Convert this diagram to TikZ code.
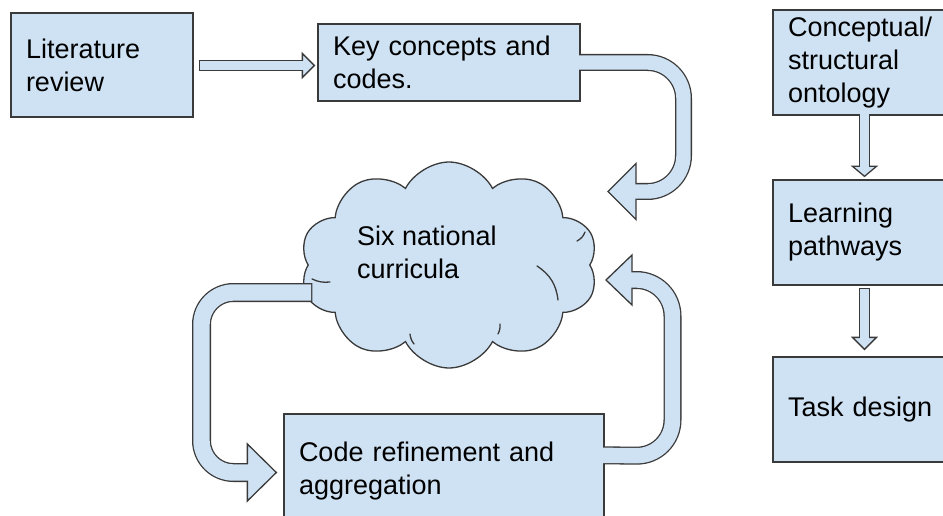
\documentclass[tikz,border=0pt]{standalone}
\usepackage{fontspec}
\setmainfont{Liberation Sans}
\usetikzlibrary{shapes.symbols,calc}
\definecolor{fc}{HTML}{CFE2F3}
\definecolor{lc}{HTML}{3A3A3A}
\newcommand\boxfont{\fontsize{27}{33}\selectfont}
\tikzset{
  box/.style={draw=lc, fill=fc, line width=1.3pt, rectangle, align=left,
    inner xsep=15pt, inner ysep=0pt, font=\boxfont},
  shaftout/.style={draw=lc, line width=#1},
  shaftin/.style={draw=fc, line width=#1-2.6pt},
  headsty/.style={draw=lc, fill=fc, line width=1.3pt, line join=miter},
  cloudsty/.style={cloud, cloud puffs=10, cloud puff arc=125, cloud ignores aspect,
    draw=lc, fill=fc, line width=1.3pt, inner sep=0pt},
  foldsty/.style={draw=lc, line width=1.3pt, line cap=round},
  plain/.style={align=left, inner sep=0pt, font=\boxfont}
}
\begin{document}
\begin{tikzpicture}[x=1pt,y=-1pt]
\useasboundingbox (0,0) rectangle (943,516);
\clip (0,0) rectangle (943,516);
% boxes
\node[box, text width=152pt, minimum height=104pt] (lit) at (102,65) {Literature\\review};
\node[box, text width=232pt, minimum height=77pt] (key) at (449,62.5) {Key concepts and\\codes.};
\node[box, text width=290pt, minimum height=114pt] (code) at (444,471) {Code refinement and\\aggregation};
\node[box, text width=153pt, minimum height=105pt] (onto) at (864.5,62.5) {Conceptual/\\structural\\ontology};
\node[box, text width=153pt, minimum height=105pt] (path) at (864.5,232.5) {Learning\\pathways};
\node[box, text width=153pt, minimum height=105pt] (task) at (864.5,409.5) {Task design};
% cloud
\node[cloudsty, minimum width=298pt, minimum height=206pt] (cloud) at (449,265) {};
\draw[foldsty] (537,266) to[bend left=25] (558,300);
\draw[foldsty] (330,282) to[bend left=15] (312,279);
\draw[foldsty] (577,241) to[bend right=20] (585,232);
\draw[foldsty] (500,324) to[bend left=15] (498,334);
\draw[foldsty] (410,334) to[bend right=15] (414,344);
\node[plain, anchor=west] (cloudtxt) at (357,252) {Six national\\curricula};

% arrow lit -> key
\coordinate (a0s) at ($(lit.east)+(5,0.5)$);
\coordinate (a0t) at ($(lit.east -| key.west)+(-3,0.5)$);
\coordinate (a0b) at ($(a0t)+(-12,0)$);
\draw[shaftout=11pt] (a0s) -- (a0b);
\draw[headsty] ($(a0b)+(0,-12)$) -- (a0t) -- ($(a0b)+(0,12)$) -- cycle;
\draw[shaftin=11pt] ($(a0s)+(1.3,0)$) -- ($(a0b)+(1.5,0)$);

% arrow key -> cloud (U-turn)
\coordinate (a1c1) at (683.5,62.5);
\coordinate (a1c2) at (683.5,191.5);
\coordinate (a1t) at (608,191.5);
\coordinate (a1b) at ($(a1t)+(28,0)$);
\draw[shaftout=17pt, rounded corners=36pt] (key.east) -- (a1c1) -- (a1c2) -- (a1b);
\draw[headsty] ($(a1b)+(0,-28)$) -- (a1t) -- ($(a1b)+(0,28)$) -- cycle;
\draw[shaftin=17pt, rounded corners=36pt] ($(key.east)+(-2,0)$) -- (a1c1) -- (a1c2) -- ($(a1b)+(-1.5,0)$);

% arrow cloud -> code (left U-turn)
\coordinate (a2s) at ($(cloud.west)+(5,27.5)$);
\coordinate (a2c1) at (201.5,292.5);
\coordinate (a2c2) at (201.5,472.5);
\coordinate (a2t) at ($(code.west |- a2c2)+(-7,0)$);
\coordinate (a2b) at ($(a2t)+(-29,0)$);
\draw[shaftout=19pt, rounded corners=32pt] (a2s) -- (a2c1) -- (a2c2) -- (a2b);
\draw[headsty] ($(a2b)+(0,-28.5)$) -- (a2t) -- ($(a2b)+(0,28.5)$) -- cycle;
\draw[shaftin=19pt, rounded corners=32pt] ($(a2s)+(-1.3,0)$) -- (a2c1) -- (a2c2) -- ($(a2b)+(1.5,0)$);

% arrow code -> cloud (right U-turn)
\coordinate (a3s) at ($(code.north east)+(0,42)$);
\coordinate (a3c1) at (672.5,456);
\coordinate (a3c2) at (672.5,280);
\coordinate (a3t) at (606,280);
\coordinate (a3b) at ($(a3t)+(26,0)$);
\draw[shaftout=18pt, rounded corners=36pt] (a3s) -- (a3c1) -- (a3c2) -- (a3b);
\draw[headsty] ($(a3b)+(0,-25)$) -- (a3t) -- ($(a3b)+(0,25)$) -- cycle;
\draw[shaftin=18pt, rounded corners=36pt] ($(a3s)+(-2,0)$) -- (a3c1) -- (a3c2) -- ($(a3b)+(-1.5,0)$);

% arrow onto -> path
\coordinate (a4t) at ($(path.north)+(0,-3)$);
\coordinate (a4b) at ($(a4t)+(0,-10)$);
\draw[shaftout=11pt] (onto.south) -- (a4b);
\draw[headsty] ($(a4b)+(-12,0)$) -- (a4t) -- ($(a4b)+(12,0)$) -- cycle;
\draw[shaftin=11pt] ($(onto.south)+(0,-2)$) -- ($(a4b)+(0,1.5)$);

% arrow path -> task
\coordinate (a5s) at ($(path.south)+(0,2)$);
\coordinate (a5t) at ($(task.north)+(0,-7)$);
\coordinate (a5b) at ($(a5t)+(0,-12)$);
\draw[shaftout=11pt] (a5s) -- (a5b);
\draw[headsty] ($(a5b)+(-12,0)$) -- (a5t) -- ($(a5b)+(12,0)$) -- cycle;
\draw[shaftin=11pt] ($(a5s)+(0,1.3)$) -- ($(a5b)+(0,1.5)$);
\end{tikzpicture}
\end{document}
